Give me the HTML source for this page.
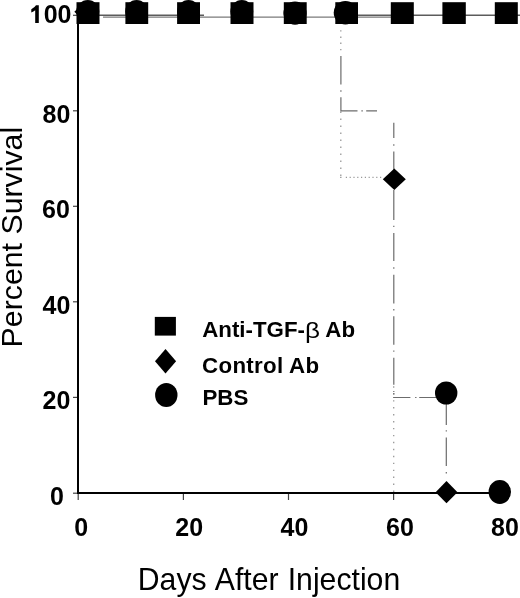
<!DOCTYPE html>
<html><head><meta charset="utf-8">
<style>
html,body{margin:0;padding:0;background:#fff;width:520px;height:598px;overflow:hidden;}
svg{display:block;will-change:transform;}
text{font-family:"Liberation Sans",sans-serif;fill:#000;}
.b{font-weight:bold;}
</style></head>
<body>
<svg width="520" height="598" viewBox="0 0 520 598">
<!-- y axis title -->
<text x="0" y="0" font-size="30.3" transform="translate(22.2,347.4) rotate(-90)">Percent Survival</text>
<!-- x axis title -->
<text x="0" y="0" font-size="30.2" transform="translate(137.8,589.5) scale(1,1.045)">Days<tspan dx="1.5"> After</tspan><tspan dx="0.8"> Injection</tspan></text>
<!-- y tick labels -->
<g class="b" font-size="25">
<text class="b" x="71.5" y="23.1" text-anchor="end">00</text>
<path d="M38.8,5.2 L38.8,22.9 L35.2,22.9 L35.2,10.3 Q33.5,11.8 31.3,12.6 L31.3,9.3 Q34.5,7.6 36,5.2 Z" fill="#000"/>
<text class="b" x="70.4" y="122.5" text-anchor="end">80</text>
<text class="b" x="69.9" y="218.3" text-anchor="end">60</text>
<text class="b" x="70.4" y="314.4" text-anchor="end">40</text>
<text class="b" x="70.4" y="409.4" text-anchor="end">20</text>
<text class="b" x="63.9" y="505" text-anchor="end">0</text>
</g>
<!-- x tick labels -->
<g font-size="25">
<text class="b" x="81.3" y="536.2" text-anchor="middle">0</text>
<text class="b" x="189.2" y="536.2" text-anchor="middle">20</text>
<text class="b" x="294.5" y="536.2" text-anchor="middle">40</text>
<text class="b" x="400" y="536.2" text-anchor="middle">60</text>
<text class="b" x="505" y="536.2" text-anchor="middle">80</text>
</g>
<!-- ticks -->
<g stroke="#444" stroke-width="1.2">
<line x1="73" x2="77" y1="15.3" y2="15.3"/>
<line x1="73" x2="77" y1="110.8" y2="110.8"/>
<line x1="73" x2="77" y1="206.3" y2="206.3"/>
<line x1="73" x2="77" y1="301.8" y2="301.8"/>
<line x1="73" x2="77" y1="397.4" y2="397.4"/>
<line x1="73" x2="77" y1="493.2" y2="493.2"/>
<line x1="78.2" x2="78.2" y1="494" y2="500"/>
<line x1="183.4" x2="183.4" y1="494" y2="500"/>
<line x1="288.5" x2="288.5" y1="494" y2="500"/>
<line x1="393.6" x2="393.6" y1="494" y2="500"/>
<line x1="498.7" x2="498.7" y1="494" y2="500"/>
</g>
<!-- 100% lines -->
<g>
<line x1="78" x2="204" y1="15.3" y2="15.3" stroke="#5c5c5c" stroke-width="1.4"/>
<line x1="356" x2="520" y1="15.3" y2="15.3" stroke="#5c5c5c" stroke-width="1.4"/>
<line x1="103" x2="400" y1="17.1" y2="17.1" stroke="#7a7a7a" stroke-width="1.1"/>
</g>
<!-- dotted series -->
<g stroke="#999" stroke-width="1.3" fill="none">
<path d="M340.8 175.9 V108" stroke-dasharray="1.4 5.6"/>
<path d="M340.8 30.2v1.4 M340.8 36.5v1.4 M340.8 42.6v1.4 M340.8 48.9v1.4 M340.1 177.3h1.4"/>
<path d="M345.8 177.3 H383" stroke-dasharray="1.2 2.6"/>
<path d="M393.7 491.9 V385" stroke-dasharray="1.4 5.55"/>
</g>
<!-- dash-dot series -->
<g stroke="#6c6c6c" stroke-width="1.2" fill="none">
<path d="M340.9 56 V84.4 M340.9 90.3 V91.7 M340.9 97.3 V110.8 H357.5 M361.4 110.8 H362.8 M366.2 110.8 H377"/>
<path d="M393.8 122.7 V138.1 M393.8 144.3 V145.7 M393.8 151.5 V180 M393.8 190 V220.1 M393.8 225.7 V227.1 M393.8 233.1 V260.9 M393.8 267.3 V268.7 M393.8 274.7 V303.5 M393.8 309.1 V310.5 M393.8 316.2 V344.7 M393.8 350.4 V351.8 M393.8 357.8 V384.8 M393.8 391.1 V392 M393.8 392.9 V394.6 M393.1 397.5 H410.4 M415.1 397.5 H416.5 M419.2 397.5 H436"/>
<path d="M446.3 404 V425.1 M446.3 430.2 V431.6 M446.3 437.6 V466 M446.3 472 V473.4"/>
</g>
<!-- axes -->
<g stroke="#000" stroke-width="2">
<line x1="78" x2="78" y1="13" y2="494"/>
<line x1="77" x2="499" y1="493" y2="493"/>
</g>
<!-- circles behind squares -->
<g fill="#000">
<circle cx="87.8" cy="11.5" r="11.5"/>
<polygon points="85.8,1 97.3,11.8 85.8,22.6 74.3,11.8"/>
<circle cx="136.6" cy="11.4" r="11.4"/>
<circle cx="188.5" cy="11.4" r="11.4"/>
<circle cx="241.8" cy="11.4" r="11.4"/>
<circle cx="295" cy="13.1" r="11.6"/>
<circle cx="345.4" cy="12.7" r="11.7"/>
</g>
<!-- squares -->
<g fill="#000">
<rect x="76.5" y="2.2" width="23" height="21.8"/>
<rect x="125.4" y="2.2" width="22.8" height="21.8"/>
<rect x="177.1" y="2.2" width="22.9" height="21.8"/>
<rect x="230.5" y="2.2" width="23" height="21.8"/>
<rect x="283.8" y="2.2" width="22.9" height="21.8"/>
<rect x="335.3" y="2.2" width="22.7" height="21.8"/>
<rect x="390.8" y="2.2" width="23" height="21.8"/>
<rect x="442.4" y="2.2" width="23.4" height="21.8"/>
<rect x="494.8" y="2.2" width="23" height="21.8"/>
</g>
<!-- other markers -->
<g fill="#000">
<polygon points="394.3,168.5 405.8,179.3 394.3,190.1 382.8,179.3"/>
<ellipse cx="446.2" cy="393" rx="11.2" ry="11.5"/>
<polygon points="446.5,481 457.5,492.2 446.5,503.3 435.6,492.2"/>
<ellipse cx="499.8" cy="492" rx="11.2" ry="11.9"/>
</g>
<!-- legend -->
<g fill="#000">
<rect x="154.8" y="316.9" width="21.1" height="18.7"/>
<polygon points="165.5,349 176.1,361.2 165.5,373.6 155,361.2"/>
<ellipse cx="166.3" cy="395" rx="11.2" ry="12"/>
</g>
<g font-size="22.3" class="b">
<text class="b" x="202.2" y="336.5">Anti-TGF-</text>
<text x="0" y="0" font-family="Liberation Serif" font-weight="normal" font-size="22.3" transform="translate(305,337.5) scale(1.17,1)">β</text>
<text class="b" x="325.3" y="336.5">Ab</text>
<text class="b" x="202.1" y="372.5" letter-spacing="0.3">Control Ab</text>
<text class="b" x="202.5" y="405.3">PBS</text>
</g>
</svg>
</body></html>
